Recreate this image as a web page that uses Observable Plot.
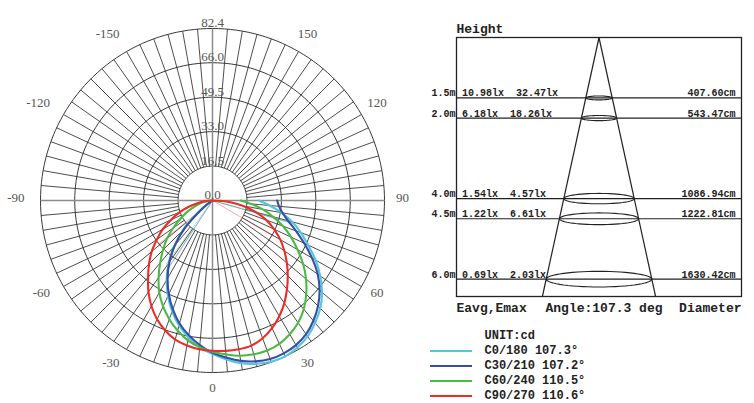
<!DOCTYPE html>
<html><head><meta charset="utf-8">
<script src="https://cdn.jsdelivr.net/npm/d3@7"></script>
<script src="https://cdn.jsdelivr.net/npm/@observablehq/plot@0.6"></script>
<style>
body{margin:0;background:#fff;}
#wrap{position:relative;width:754px;height:403px;overflow:hidden;background:#fff;}
#polar{position:absolute;left:0;top:0;}
#cone{position:absolute;left:420px;top:0;}
#legend{position:absolute;left:430px;top:328px;font-family:"Liberation Mono",monospace;font-size:12px;line-height:12px;font-weight:bold;color:#222;}
.row{height:15.2px;display:flex;align-items:center;white-space:pre;}
.sw{width:42px;height:0;border-top:2.5px solid transparent;margin-right:12.5px;}
svg{overflow:visible;}
</style></head><body><div id="wrap"><div id="polar"></div><div id="cone"></div><div id="legend"></div></div>
<script>
// ---------- polar (luminous intensity) data ----------
const angles = [-90,-85,-80,-75,-70,-65,-60,-55,-50,-45,-40,-35,-30,-25,-20,-15,-10,-5,0,5,10,15,20,25,30,35,40,45,50,55,60,65,70,75,80,85,90];
const seriesNames = ["C0/180","C30/210","C60/240","C90/270"];
const seriesColors = ["#57c4df","#3450a6","#4cb947","#ee2b25"];
const beamAngles = ["107.3","107.2","110.5","110.6"];
const c0Values   = [0,0,0,0,0,0.5,1,3,9,20,28.5,36.5,44,50.5,56.5,62,66.5,70.5,73.5,76.5,79.2,81,82.2,82.4,81.3,79.5,76.5,73,68.5,63,57,50.5,45,39.5,33.5,27.5,22.2];
const c30Values  = [0,0,0,0,0,0.5,1,2.5,8,19,28,36,43,49.5,55.5,61,65.5,69.5,73,75.5,78,79.8,80.8,80.8,80,78.2,75.2,71.5,67,61.5,55,48.5,42.5,37.5,34,32,31];
const c60Values  = [0,2,4.5,7,10,14,18,23,28.5,33.5,39,45,51,56,60.5,64.5,68,70.5,72.5,74,75.5,76.3,76.5,75.8,74,71.5,68,63.5,58.5,53,47,41.5,36,30,24.5,18.5,13.5];
const c90Values  = [0,3.5,7,12,17,22,27.5,32.5,38,43,48,53.5,58.5,62.8,66.3,69,70.5,71.5,72,72.3,72.4,72,70.2,67.5,64,60,55.5,51,46.5,42,37.5,32.5,27.5,21.5,15,8,0];
const seriesValues = [c0Values, c30Values, c60Values, c90Values];
// half-intensity beam edge lines: left angle, right angle, length (cd)
const beamLeft  = [-33.5,-33,-36,-51];
const beamRight = [73.8,74.2,74.5,59.6];
const beamLen   = [40,40,38,34];

const maxValue = 82.4;
const ringValues = [16.5,33.0,49.5,66.0,82.4];
const ringLabelValues = [0,16.5,33.0,49.5,66.0,82.4];
const ringLabels = ["0.0","16.5","33.0","49.5","66.0","82.4"];
const angleTicks = [-150,-120,-90,-60,-30,0,30,60,90,120,150];
const spokeStep = 5;

// ---------- cone (illuminance) data ----------
const heights = [1.5,2.0,4.0,4.5,6.0];
const heightLabels = ["1.5m","2.0m","4.0m","4.5m","6.0m"];
const eavgLabels = ["10.98","6.18","1.54","1.22","0.69"];
const emaxLabels = ["32.47","18.26","4.57","6.61","2.03"];
const diameterLabels = ["407.60","543.47","1086.94","1222.81","1630.42"];
const beamAngleLabel = "107.3";
const coneDepth = 6.43;
const boxHalf = 16.19;

// ---------- helpers ----------
const rad = a => a * Math.PI / 180;
const px = (a, r) => r * Math.sin(rad(a));
const py = (a, r) => -r * Math.cos(rad(a));

const curveData = [];
seriesNames.forEach((s, i) => angles.forEach((a, j) => curveData.push({s, a, v: seriesValues[i][j]})));

const circleAngles = d3.range(0, 361, 2);
const ringData = ringValues.flatMap(v => circleAngles.map(a => ({v, a})));
const spokes = d3.range(0, 360, spokeStep);

const beamData = seriesNames.flatMap((s, i) => [
  {s, a: beamLeft[i], v: beamLen[i]},
  {s, a: beamRight[i], v: beamLen[i]}
]);

const labelR = 91;
const serif = "'Liberation Serif', 'DejaVu Serif', serif";

const polar = Plot.plot({
  width: 424, height: 403,
  marginLeft: 40, marginRight: 40, marginTop: 28, marginBottom: 31,
  x: {domain: [-maxValue, maxValue], axis: null},
  y: {domain: [-maxValue, maxValue], axis: null},
  color: {domain: seriesNames, range: seriesColors},
  style: {background: "transparent", overflow: "visible"},
  marks: [
    Plot.line(ringData, {x: d => px(d.a, d.v), y: d => py(d.a, d.v), z: "v", stroke: "#2e2e2e", strokeWidth: 0.95}),
    Plot.link(spokes, {x1: a => px(a, ringValues[0]), y1: a => py(a, ringValues[0]), x2: a => px(a, maxValue), y2: a => py(a, maxValue), stroke: "#2e2e2e", strokeWidth: 0.85}),
    Plot.link([90, 180], {x1: a => px(a, -maxValue), y1: a => py(a, -maxValue), x2: a => px(a, maxValue), y2: a => py(a, maxValue), stroke: "#8c8c8c", strokeWidth: 1.5}),
    Plot.link(beamData, {x1: 0, y1: 0, x2: d => px(d.a, d.v), y2: d => py(d.a, d.v), stroke: "s", strokeWidth: 1, strokeOpacity: 0.4}),
    Plot.line(curveData, {x: d => px(d.a, d.v), y: d => py(d.a, d.v), z: "s", stroke: "s", strokeWidth: 2.1, curve: "catmull-rom"}),
    Plot.text(ringLabelValues, {x: 0, y: v => v, text: (v, i) => ringLabels[i], lineAnchor: "middle", dy: -5.5, fill: "#555", fontSize: 13, fontFamily: serif}),
    Plot.text(angleTicks.filter(a => a >= 0), {x: a => px(a, labelR), y: a => py(a, labelR), text: a => String(a), textAnchor: "middle", lineAnchor: "middle", dy: -2.5, fill: "#555", fontSize: 13, fontFamily: serif}),
    Plot.text(angleTicks.filter(a => a < 0), {x: a => px(a, labelR), y: a => py(a, labelR), text: a => String(a), textAnchor: "end", lineAnchor: "middle", dx: 2, dy: -2.5, fill: "#555", fontSize: 13, fontFamily: serif})
  ]
});
document.getElementById("polar").append(polar);

// ---------- cone plot ----------
const mono = "'Liberation Mono', 'DejaVu Sans Mono', monospace";
const ellipseT = d3.range(0, 361, 6);
const ellipseData = heights.flatMap(h => ellipseT.map(t => ({h, t})));
const ryFactor = 0.0323;

const cone = Plot.plot({
  width: 334, height: 403,
  marginLeft: 36, marginRight: 13, marginTop: 37, marginBottom: 107,
  x: {domain: [-boxHalf, boxHalf], axis: null},
  y: {domain: [0, coneDepth], reverse: true, axis: null},
  style: {background: "transparent", overflow: "visible"},
  marks: [
    Plot.frame({stroke: "#222", strokeWidth: 1.3}),
    Plot.ruleY(heights, {x1: -boxHalf, x2: boxHalf, stroke: "#222", strokeWidth: 1.2}),
    Plot.link([-1, 1], {x1: 0, y1: 0, x2: s => s * coneDepth, y2: coneDepth, stroke: "#222", strokeWidth: 1.2}),
    Plot.line(ellipseData, {x: d => d.h * Math.cos(rad(d.t)), y: d => d.h + ryFactor * d.h * Math.sin(rad(d.t)), z: "h", stroke: "#222", strokeWidth: 1.1}),
    Plot.text(["Height"], {x: -boxHalf, y: 0, text: d => d, textAnchor: "start", lineAnchor: "middle", dy: -8.2, fontSize: 13, fontWeight: "bold", fontFamily: mono, fill: "#222"}),
    Plot.text(heights, {x: -boxHalf, y: h => h, text: (h, i) => heightLabels[i], textAnchor: "end", lineAnchor: "middle", dx: -1, dy: -4.7, fontSize: 10, fontWeight: "bold", fontFamily: mono, fill: "#222"}),
    Plot.text(heights, {x: -boxHalf, y: h => h, text: (h, i) => `${eavgLabels[i]}lx  ${emaxLabels[i]}lx`, textAnchor: "start", lineAnchor: "middle", dx: 5.5, dy: -4.7, fontSize: 10, fontWeight: "bold", fontFamily: mono, fill: "#222"}),
    Plot.text(heights, {x: boxHalf, y: h => h, text: (h, i) => `${diameterLabels[i]}cm`, textAnchor: "end", lineAnchor: "middle", dx: -6, dy: -4.7, fontSize: 10, fontWeight: "bold", fontFamily: mono, fill: "#222"}),
    Plot.text(["Eavg,Emax"], {x: -boxHalf, y: coneDepth, text: d => d, textAnchor: "start", lineAnchor: "middle", dy: 11.3, fontSize: 13, fontWeight: "bold", fontFamily: mono, fill: "#222"}),
    Plot.text([`Angle:${beamAngleLabel} deg`], {x: 0, y: coneDepth, text: d => d, textAnchor: "middle", lineAnchor: "middle", dx: 5, dy: 11.3, fontSize: 13, fontWeight: "bold", fontFamily: mono, fill: "#222"}),
    Plot.text(["Diameter"], {x: boxHalf, y: coneDepth, text: d => d, textAnchor: "end", lineAnchor: "middle", dy: 11.3, fontSize: 13, fontWeight: "bold", fontFamily: mono, fill: "#222"})
  ]
});
document.getElementById("cone").append(cone);

// ---------- legend ----------
const legend = document.getElementById("legend");
const head = document.createElement("div");
head.className = "row";
head.innerHTML = `<span class="sw"></span>UNIT:cd`;
legend.append(head);
seriesNames.forEach((s, i) => {
  const row = document.createElement("div");
  row.className = "row";
  const sw = document.createElement("span");
  sw.className = "sw";
  sw.style.borderTopColor = seriesColors[i];
  row.append(sw, document.createTextNode(`${s} ${beamAngles[i]}°`));
  legend.append(row);
});
</script></body></html>
